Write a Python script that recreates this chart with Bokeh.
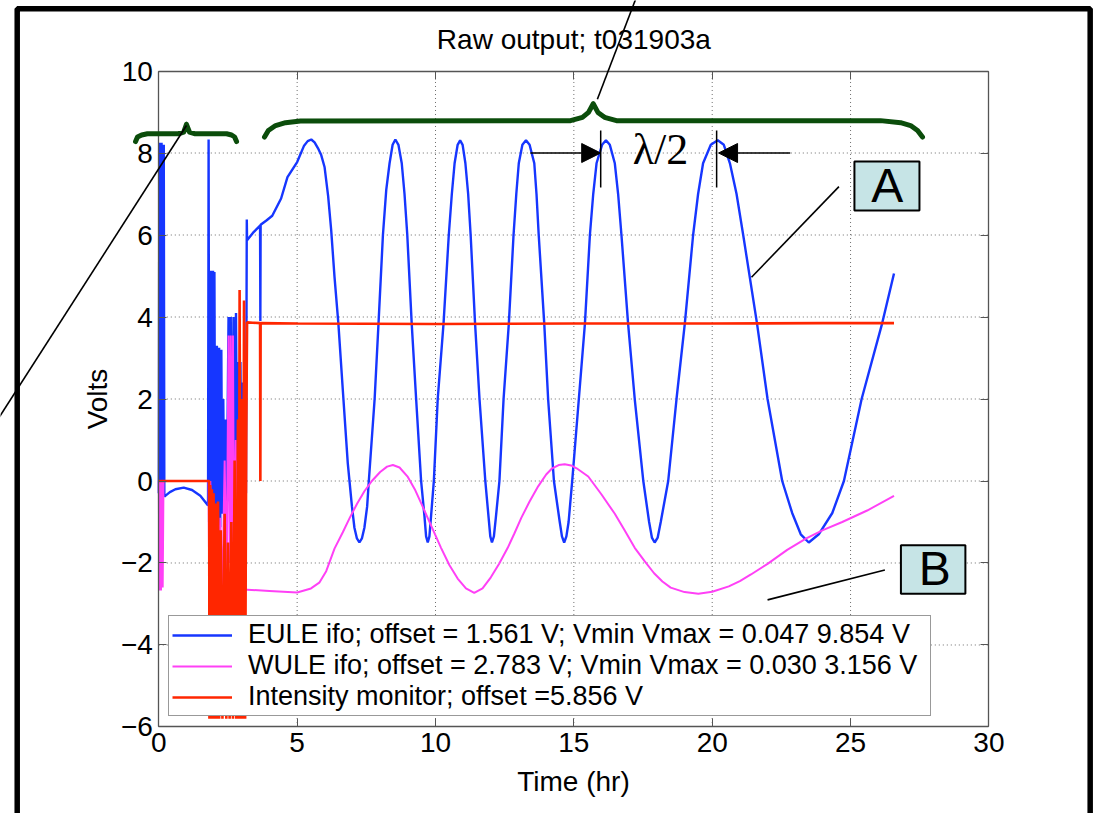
from bokeh.plotting import figure
from bokeh.models import (Range1d, FixedTicker, LinearAxis, Legend, LegendItem, Label,
                          PolyAnnotation, BoxAnnotation, Arrow, NormalHead)
from bokeh.embed import file_html
from bokeh.resources import INLINE

# ---------------- data ----------------
eule_t = [0.00, 0.02, 0.04, 0.06, 0.08, 0.10, 0.12, 0.14, 0.16, 0.18, 0.20,
          0.40, 0.60, 0.90, 1.20, 1.50, 1.78,
          1.80, 1.82, 1.84, 1.87, 1.90, 1.93, 1.96, 1.99, 2.01, 2.04,
          2.10, 2.14, 2.18, 2.22, 2.26, 2.29, 2.33, 2.37, 2.42, 2.46,
          2.52, 2.56, 2.60, 2.64, 2.70, 2.74, 2.79, 2.83, 2.87, 2.91, 2.95, 2.99, 3.03, 3.07, 3.11, 3.15,
          3.18, 3.19, 3.40, 3.66, 3.67, 3.68, 3.90, 4.10, 4.42, 4.65, 5.00, 5.25, 5.38, 5.51, 5.63,
          5.75, 5.87, 5.99, 6.12, 6.23, 6.35, 6.49, 6.65, 6.83, 6.98, 7.07, 7.16, 7.25, 7.34, 7.43,
          7.53, 7.59,
          7.80, 7.94, 8.10, 8.22, 8.34, 8.45, 8.55, 8.66, 8.78, 8.88, 8.98, 9.14, 9.30, 9.48,
          9.60, 9.66, 9.72, 9.78, 9.84, 9.94, 10.08, 10.29, 10.48, 10.59, 10.69, 10.80, 10.89,
          10.98, 11.08, 11.18, 11.27, 11.43, 11.59, 11.80, 11.92, 11.98, 12.04, 12.11, 12.18,
          12.31, 12.46, 12.65, 12.82, 12.92, 13.01, 13.14, 13.27, 13.40, 13.57, 13.65, 13.73,
          13.93, 14.07, 14.28, 14.49, 14.57, 14.65, 14.73, 14.81, 14.94, 15.18, 15.40, 15.58,
          15.70, 15.82, 16.02, 16.16, 16.30, 16.48, 16.60, 16.72, 16.96, 17.20, 17.51, 17.72,
          17.82, 17.92, 18.03, 18.14, 18.41, 18.71, 19.01, 19.31, 19.49, 19.67, 19.95, 20.20,
          20.42, 20.64, 20.88, 21.12, 21.62, 22.00, 22.53, 22.89, 23.20, 23.49, 23.85, 24.34,
          24.76, 25.40, 26.14, 26.57]
eule_v = [-0.30, 8.25, -0.35, 8.25, -0.30, 8.25, -0.35, 8.20, -0.35, 8.20, -0.38,
          -0.27, -0.20, -0.16, -0.22, -0.36, -0.60,
          8.33, -1.00, 5.13, -1.10, 5.13, -1.20, 5.13, -0.90, 5.10, -1.30,
          3.30, -1.10, 3.25, -1.13, 3.20, -0.80, 2.00, -1.00, 1.50, -0.60,
          4.00, -0.50, 4.00, -0.70, 4.00, -0.40, 4.10, -0.60, 2.90, -0.90, 2.90, -0.50, 2.40, -0.40, 1.50, -0.30,
          6.38, 5.87, 6.05, 6.23, 3.90, 6.25, 6.36, 6.47, 6.89, 7.41, 7.78, 8.18, 8.29, 8.33, 8.26,
          8.12, 7.95, 7.66, 6.95, 6.12, 4.98, 3.84, 2.22, 0.43, -0.62, -1.14, -1.40, -1.50, -1.40, -1.14,
          -0.62, 0.00,
          2.00, 3.84, 6.00, 7.10, 7.75, 8.20, 8.33, 8.20, 7.75, 7.00, 6.00, 3.84, 2.00, 0.00,
          -0.85, -1.35, -1.50, -1.35, -0.85, 0.00, 2.00, 3.84, 6.00, 7.00, 7.75, 8.20, 8.31,
          8.20, 7.75, 7.00, 6.00, 3.84, 2.00, 0.00, -0.90, -1.35, -1.50, -1.35, -0.90,
          0.00, 2.00, 3.84, 6.00, 7.00, 7.75, 8.20, 8.31, 8.20, 7.75, 7.00, 6.00,
          3.84, 2.00, 0.00, -1.00, -1.35, -1.50, -1.35, -1.00, 0.00, 2.00, 3.84, 6.00,
          7.00, 7.75, 8.20, 8.31, 8.20, 7.75, 7.00, 6.00, 3.84, 2.00, 0.00, -1.00,
          -1.38, -1.50, -1.38, -1.00, 0.00, 2.00, 3.84, 6.00, 7.00, 7.75, 8.20, 8.31,
          8.20, 7.75, 7.00, 6.00, 3.84, 2.00, 0.00, -0.78, -1.30, -1.50, -1.30, -0.78,
          0.00, 2.00, 3.84, 5.06]

wule_t = [0.00, 0.02, 0.05, 0.08, 0.11, 0.14, 0.17, 1.80,
          1.82, 1.86, 1.90, 1.95, 2.00, 2.08, 2.15, 2.22, 2.30, 2.38, 2.45, 2.52, 2.56, 2.60,
          2.64, 2.68, 2.72, 2.78, 2.85, 2.92, 3.00, 3.08, 3.15,
          3.20, 4.00, 5.00, 5.50, 5.80, 6.05, 6.35, 6.65, 6.90, 7.17, 7.43, 7.70, 8.00, 8.25,
          8.46, 8.70, 9.00, 9.25, 9.48, 9.85, 10.20, 10.50, 10.80, 11.10, 11.40, 11.70, 12.00,
          12.30, 12.61, 12.85, 13.10, 13.40, 13.71, 14.00, 14.20, 14.45, 14.67, 14.90, 15.10,
          15.52, 16.00, 16.48, 16.85, 17.20, 17.55, 17.90, 18.20, 18.50, 19.00, 19.50, 20.00,
          20.60, 21.00, 21.40, 22.00, 22.71, 23.40, 24.00, 24.70, 25.60, 26.57]
wule_v = [0.00, -2.67, 0.00, -2.67, 0.00, -2.60, 0.00, 0.00,
          -2.50, 0.00, -2.60, -0.50, -2.60, -0.60, -2.70, -0.90, -2.70, 0.50, -2.70, 3.55, -2.00, 3.55,
          -2.20, 3.55, -2.50, 1.00, -2.60, 0.50, -2.60, -0.50, -2.65,
          -2.65, -2.68, -2.72, -2.62, -2.48, -2.20, -1.65, -1.25, -0.90, -0.55, -0.25, 0.00, 0.22, 0.35,
          0.39, 0.33, 0.10, -0.20, -0.54, -1.10, -1.63, -2.05, -2.38, -2.62, -2.73, -2.62, -2.35,
          -2.02, -1.63, -1.28, -0.90, -0.50, -0.13, 0.16, 0.30, 0.39, 0.41, 0.38, 0.31,
          0.11, -0.33, -0.80, -1.22, -1.63, -1.95, -2.25, -2.45, -2.60, -2.71, -2.75, -2.70,
          -2.57, -2.44, -2.28, -2.02, -1.68, -1.40, -1.20, -1.00, -0.72, -0.36]

inten_t = [0.00, 1.82, 1.83, 1.86, 1.89, 1.92, 1.95, 1.98, 2.01, 2.06, 2.10, 2.14, 2.18,
           2.24, 2.30, 2.38, 2.44, 2.50, 2.56, 2.62, 2.68, 2.74, 2.80, 2.86, 2.89, 2.92,
           2.96, 3.00, 3.04, 3.08, 3.12, 3.16, 3.19, 3.40, 3.66, 3.67, 3.68, 5.00, 10.00,
           15.00, 20.00, 24.00, 26.57]
inten_v = [0.00, 0.00, -5.80, -0.10, -5.80, -0.20, -5.80, -0.30, -5.80, -0.55, -5.80, -0.50, -5.80,
           -1.20, -5.80, -0.80, -5.80, -1.50, -5.80, -1.00, -5.80, 0.50, -5.80, 1.50, -5.80, 4.66,
           -5.80, 2.00, -5.80, 4.40, -5.80, 1.00, 3.87, 3.86, 3.85, 0.00, 3.85, 3.84, 3.83,
           3.84, 3.84, 3.85, 3.85]

x_ticks = [0, 5, 10, 15, 20, 25, 30]
y_ticks = [-6, -4, -2, 0, 2, 4, 6, 8, 10]
y_tick_labels = ["\u22126", "\u22124", "\u22122", "0", "2", "4", "6", "8", "10"]

title_text = "Raw output; t031903a"
x_label = "Time (hr)"
y_label = "Volts"
legend_labels = ["EULE ifo; offset = 1.561 V; Vmin Vmax = 0.047 9.854 V",
                 "WULE ifo; offset = 2.783 V; Vmin Vmax = 0.030 3.156 V",
                 "Intensity monitor; offset =5.856 V"]

# annotation geometry (data units; the drawing area extends beyond the axes box)
brace_small_t = [-0.84, -0.77, -0.62, -0.41, 0.71, 0.90, 1.00, 1.11, 1.29, 2.45, 2.63, 2.74, 2.81]
brace_small_v = [8.28, 8.39, 8.44, 8.47, 8.47, 8.51, 8.70, 8.51, 8.47, 8.47, 8.44, 8.39, 8.28]
brace_big_t = [3.82, 3.96, 4.22, 4.58, 5.12, 14.88, 15.31, 15.53, 15.70, 15.87, 16.11, 16.54,
               26.08, 26.81, 27.17, 27.42, 27.60]
brace_big_v = [8.39, 8.55, 8.67, 8.74, 8.78, 8.79, 8.87, 8.99, 9.20, 8.99, 8.87, 8.79,
               8.79, 8.74, 8.67, 8.55, 8.39]
callout_top_t = [15.85, 17.26]
callout_top_v = [9.31, 11.80]
callout_left_t = [1.00, -5.80]
callout_left_v = [8.67, 1.52]
callout_a_t = [24.58, 21.42]
callout_a_v = [7.18, 4.97]
callout_b_t = [26.24, 22.00]
callout_b_v = [-2.17, -2.90]
frame_t = [-5.117, -5.117, 33.66, 33.66]
frame_v = [-8.30, 11.52, 11.52, -8.30]
lam_left_arrow = (13.43, 15.97, 8.0)
lam_right_arrow = (22.82, 20.23, 8.0)
lam_bars_t = [15.97, 20.16]
lam_bar_v = (8.55, 7.16)
box_a = (25.14, 27.49, 6.60, 7.79)
box_b = (26.82, 29.15, -2.75, -1.57)
view_t = (-5.721, 33.816)
view_v = (-8.110, 11.720)

BLUE = "#1636ff"
MAGENTA = "#ff40f6"
RED = "#ff2600"
GREEN = "#0b4d0b"
AXIS = "#555555"
FONT = "Liberation Sans"

p = figure(width=1094, height=813, x_range=Range1d(*view_t), y_range=Range1d(*view_v),
           output_backend="svg", toolbar_location=None,
           x_axis_location=None, y_axis_location=None, min_border=0,
           min_border_left=0, min_border_right=0, min_border_top=0, min_border_bottom=0)
p.background_fill_color = "white"
p.border_fill_color = "white"
p.outline_line_color = None
p.grid.visible = False

# axes box: four axes fixed at the edges of the data area
x_bounds = (x_ticks[0], x_ticks[-1])
y_bounds = (y_ticks[0], y_ticks[-1])
ax_b = LinearAxis(fixed_location=y_ticks[0], bounds=x_bounds, ticker=FixedTicker(ticks=x_ticks),
                  axis_label=x_label)
ax_l = LinearAxis(fixed_location=x_ticks[0], bounds=y_bounds, ticker=FixedTicker(ticks=y_ticks),
                  axis_label=y_label,
                  major_label_overrides={t: s for t, s in zip(y_ticks, y_tick_labels)})
ax_t = LinearAxis(fixed_location=y_ticks[-1], bounds=x_bounds, ticker=FixedTicker(ticks=x_ticks),
                  major_label_overrides={t: "" for t in x_ticks})
ax_r = LinearAxis(fixed_location=x_ticks[-1], bounds=y_bounds, ticker=FixedTicker(ticks=y_ticks),
                  major_label_overrides={t: "" for t in y_ticks})
for ax in (ax_b, ax_l, ax_t, ax_r):
    ax.major_label_text_font = FONT
    ax.major_label_text_font_size = "28px"
    ax.major_label_text_color = "black"
    ax.axis_label_text_font = FONT
    ax.axis_label_text_font_size = "28px"
    ax.axis_label_text_font_style = "normal"
    ax.axis_label_text_color = "black"
    ax.major_tick_in = 8
    ax.major_tick_out = 0
    ax.minor_tick_line_color = None
    ax.axis_line_color = AXIS
    ax.axis_line_width = 1.3
    ax.major_tick_line_color = AXIS
    ax.major_label_standoff = 6
ax_b.axis_label_standoff = 11
ax_l.axis_label_standoff = 5
for ax in (ax_t, ax_r):
    ax.major_label_text_font_size = "1px"
p.add_layout(ax_b, "below")
p.add_layout(ax_l, "left")
p.add_layout(ax_t, "above")
p.add_layout(ax_r, "right")

# dotted grid inside the axes box
gx = x_ticks[1:-1]
gy = y_ticks[1:-1]
p.segment(x0=gx, y0=[y_ticks[0]] * len(gx), x1=gx, y1=[y_ticks[-1]] * len(gx),
          line_color="#555555", line_dash="1 3", line_width=1, line_alpha=0.85)
p.segment(x0=[x_ticks[0]] * len(gy), y0=gy, x1=[x_ticks[-1]] * len(gy), y1=gy,
          line_color="#555555", line_dash="1 3", line_width=1, line_alpha=0.85)

r_eule = p.line(eule_t, eule_v, line_color=BLUE, line_width=2.4)
r_wule = p.line(wule_t, wule_v, line_color=MAGENTA, line_width=2)
r_int = p.line(inten_t, inten_v, line_color=RED, line_width=2.6)

legend = Legend(items=[LegendItem(label=legend_labels[0], renderers=[r_eule]),
                       LegendItem(label=legend_labels[1], renderers=[r_wule]),
                       LegendItem(label=legend_labels[2], renderers=[r_int])],
                location=(168, 97))
legend.label_text_font = FONT
legend.label_text_font_size = "27px"
legend.label_text_color = "black"
legend.glyph_width = 60
legend.glyph_height = 20
legend.label_standoff = 16
legend.label_width = 679
legend.padding = 3
legend.spacing = 0
legend.margin = 0
legend.border_line_color = "#333333"
legend.border_line_width = 1.5
legend.background_fill_color = "white"
legend.background_fill_alpha = 1.0
p.add_layout(legend)


def open_path(xs, ys, **kw):
    xs = list(xs)
    ys = list(ys)
    return PolyAnnotation(xs=xs + xs[-2:0:-1], ys=ys + ys[-2:0:-1],
                          fill_color=None, fill_alpha=0, line_alpha=1.0, **kw)


p.add_layout(open_path(frame_t, frame_v, line_color="black", line_width=5.5))
p.add_layout(open_path(brace_small_t, brace_small_v, line_color=GREEN, line_width=5,
                       line_join="round", line_cap="round"))
p.add_layout(open_path(brace_big_t, brace_big_v, line_color=GREEN, line_width=5,
                       line_join="round", line_cap="round"))
for ct, cv in ((callout_top_t, callout_top_v), (callout_left_t, callout_left_v),
               (callout_a_t, callout_a_v), (callout_b_t, callout_b_v)):
    p.add_layout(open_path(ct, cv, line_color="black", line_width=1.6))

for bt in lam_bars_t:
    p.add_layout(open_path([bt, bt], list(lam_bar_v), line_color="black", line_width=1.5))
for (xs, xe, yv) in (lam_left_arrow, lam_right_arrow):
    p.add_layout(Arrow(end=NormalHead(size=19, fill_color="black", line_color="black"),
                       x_start=xs, y_start=yv, x_end=xe, y_end=yv,
                       line_color="black", line_width=1.5))
p.add_layout(Label(x=18.13, y=8.076, text="\u03bb/2", text_align="center",
                   text_baseline="alphabetic", text_font="Liberation Serif",
                   text_font_size="44px", text_color="black"))

for (l, r, b, t), letter, lx, ly in ((box_a, "A", 26.33, 7.215), (box_b, "B", 28.04, -2.134)):
    p.add_layout(BoxAnnotation(left=l, right=r, bottom=b, top=t, fill_color="#c6e4e6",
                               fill_alpha=1.0, line_color="black", line_width=2,
                               line_alpha=1.0))
    p.add_layout(Label(x=lx, y=ly, text=letter, text_align="center",
                       text_baseline="alphabetic", text_font=FONT,
                       text_font_size="48px", text_color="black"))

p.add_layout(Label(x=15, y=10.76, text=title_text, text_align="center",
                   text_baseline="alphabetic", text_font=FONT, text_font_size="28px",
                   text_color="black"))

open("out.html", "w").write(file_html(p, INLINE))
